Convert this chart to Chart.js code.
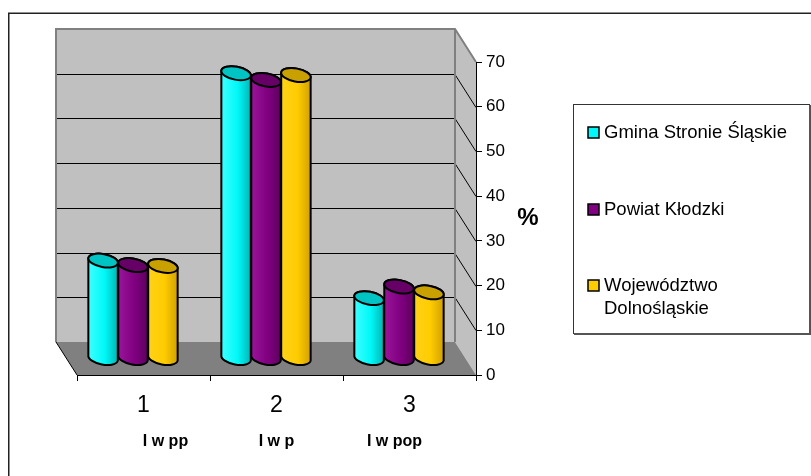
<!DOCTYPE html>
<html>
<head>
<meta charset="utf-8">
<script src="https://cdn.jsdelivr.net/npm/chart.js@4.4.1/dist/chart.umd.min.js"></script>
<style>
  html, body { margin: 0; padding: 0; background: #fff; }
  canvas { display: block; }
</style>
</head>
<body>
<canvas id="chart" width="811" height="476"></canvas>
<script>
// values (percent)
const categories = ['1', '2', '3'];
const subLabels = ['I w pp', 'I w p', 'I w pop'];
const seriesNames = ['Gmina Stronie Śląskie', 'Powiat Kłodzki', 'Województwo Dolnośląskie'];
const gminaValues = [21.9, 63.8, 13.5];
const powiatValues = [20.9, 62.3, 16.1];
const wojewodztwoValues = [20.7, 63.4, 14.8];
const yMin = 0, yMax = 70, yStep = 10;

const FONT = '"Liberation Sans", Arial, sans-serif';
const palettes = [
  { main: '#00f8f8', light: '#40ffff', dark: '#00b4b4', top: '#00c4c4' },
  { main: '#800080', light: '#9a159a', dark: '#5e005e', top: '#660066' },
  { main: '#ffcc00', light: '#ffd21a', dark: '#d0a000', top: '#c8a000' }
];
const depthX = 21, depthY = 33;       // oblique offset of the back wall
const subLabelShift = [22, 0, -15];   // the text box under the axis is not centred

function drawCylinder(ctx, cx, top, bottom, w, pal) {
  const rx = w / 2, ry = 6.5, rot = 0.18;
  const g = ctx.createLinearGradient(cx - rx, 0, cx + rx, 0);
  g.addColorStop(0, pal.light);
  g.addColorStop(0.55, pal.main);
  g.addColorStop(1, pal.dark);
  ctx.save();
  ctx.lineWidth = 2;
  ctx.strokeStyle = '#000';
  ctx.beginPath();
  ctx.ellipse(cx, bottom, rx, ry, rot, 0, Math.PI);
  ctx.ellipse(cx, top, rx, ry, rot, Math.PI, 2 * Math.PI);
  ctx.closePath();
  ctx.fillStyle = g;
  ctx.fill();
  ctx.stroke();
  ctx.beginPath();
  ctx.ellipse(cx, top, rx, ry, rot, 0, 2 * Math.PI);
  ctx.fillStyle = pal.top;
  ctx.fill();
  ctx.stroke();
  ctx.restore();
}

const excel3d = {
  id: 'excel3d',
  beforeDraw(chart) {
    const { ctx, chartArea: a, scales: { x, y } } = chart;
    ctx.save();
    // outer frame
    ctx.strokeStyle = '#222';
    ctx.lineWidth = 1.5;
    ctx.strokeRect(8.75, 13.25, 900, 600);

    const bl = a.left - depthX, br = a.right - depthX;
    const bt = a.top - depthY, bb = a.bottom - depthY;
    // back wall
    ctx.fillStyle = '#c0c0c0';
    ctx.fillRect(bl, bt, br - bl, bb - bt);
    // side wall
    ctx.beginPath();
    ctx.moveTo(br, bt); ctx.lineTo(a.right, a.top); ctx.lineTo(a.right, a.bottom); ctx.lineTo(br, bb);
    ctx.closePath();
    ctx.fill();
    // grid lines on walls
    ctx.strokeStyle = '#000';
    ctx.lineWidth = 1;
    for (let v = yMin + yStep; v < yMax; v += yStep) {
      const py = Math.round(y.getPixelForValue(v)) + 0.5;
      ctx.beginPath();
      ctx.moveTo(bl, py - depthY); ctx.lineTo(br, py - depthY); ctx.lineTo(a.right, py);
      ctx.stroke();
    }
    // floor
    ctx.fillStyle = '#808080';
    ctx.beginPath();
    ctx.moveTo(bl, bb); ctx.lineTo(br, bb); ctx.lineTo(a.right, a.bottom); ctx.lineTo(a.left, a.bottom);
    ctx.closePath();
    ctx.fill();
    // wall outlines
    ctx.strokeStyle = '#808080';
    ctx.lineWidth = 2;
    ctx.beginPath();
    ctx.moveTo(bl, bb); ctx.lineTo(bl, bt); ctx.lineTo(br, bt); ctx.lineTo(a.right, a.top);
    ctx.moveTo(br, bt); ctx.lineTo(br, bb);
    ctx.stroke();
    ctx.strokeStyle = '#000';
    ctx.lineWidth = 1;
    ctx.beginPath();
    ctx.moveTo(bl, bb); ctx.lineTo(a.left, a.bottom);
    ctx.stroke();

    // "%" axis title
    ctx.fillStyle = '#000';
    ctx.font = 'bold 24px ' + FONT;
    ctx.textAlign = 'center';
    ctx.textBaseline = 'middle';
    ctx.fillText('%', 528, (y.getPixelForValue(30) + y.getPixelForValue(40)) / 2);

    // sub labels under categories
    ctx.font = 'bold 16px ' + FONT;
    ctx.textBaseline = 'alphabetic';
    subLabels.forEach((t, i) => {
      ctx.fillText(t, x.getPixelForValue(i) + subLabelShift[i], 446);
    });

    // legend box
    ctx.fillStyle = '#fff';
    ctx.fillRect(573, 104, 237, 230);
    ctx.strokeStyle = '#333';
    ctx.lineWidth = 1;
    ctx.strokeRect(573.5, 104.5, 236, 229);
    ctx.strokeStyle = '#555';
    ctx.lineWidth = 2;
    ctx.beginPath();
    ctx.moveTo(574, 334); ctx.lineTo(810, 334); ctx.lineTo(810, 105);
    ctx.stroke();

    const rows = [132, 209, 285];
    ctx.font = '18.5px ' + FONT;
    ctx.textAlign = 'left';
    ctx.textBaseline = 'middle';
    seriesNames.forEach((name, i) => {
      ctx.fillStyle = palettes[i].main;
      ctx.fillRect(588, rows[i] - 5, 11, 11);
      ctx.strokeStyle = '#000';
      ctx.lineWidth = 1.5;
      ctx.strokeRect(588, rows[i] - 5, 11, 11);
      ctx.fillStyle = '#000';
      const words = name === seriesNames[2] ? name.split(' ') : [name];
      words.forEach((w, k) => ctx.fillText(w, 604, rows[i] + 1 + k * 23));
    });
    ctx.restore();
  },
  afterDatasetsDraw(chart) {
    const ctx = chart.ctx;
    const metas = chart.data.datasets.map((d, i) => chart.getDatasetMeta(i));
    categories.forEach((c, j) => {
      metas.forEach((meta, i) => {
        const el = meta.data[j];
        const p = el.getProps(['x', 'y', 'base', 'width'], true);
        drawCylinder(ctx, p.x - depthX / 2, p.y - depthY / 2, p.base - depthY / 2, p.width, palettes[i]);
      });
    });
  }
};

new Chart(document.getElementById('chart'), {
  type: 'bar',
  data: {
    labels: categories,
    datasets: [
      { label: seriesNames[0], data: gminaValues, backgroundColor: 'rgba(0,0,0,0)' },
      { label: seriesNames[1], data: powiatValues, backgroundColor: 'rgba(0,0,0,0)' },
      { label: seriesNames[2], data: wojewodztwoValues, backgroundColor: 'rgba(0,0,0,0)' }
    ]
  },
  options: {
    responsive: false,
    devicePixelRatio: 1,
    animation: false,
    datasets: { bar: { categoryPercentage: 0.675, barPercentage: 1 } },
    layout: { padding: { left: 77, top: 62, right: 0, bottom: 0 } },
    plugins: { legend: { display: false }, tooltip: { enabled: false } },
    scales: {
      x: {
        position: 'bottom',
        grid: { offset: true, drawOnChartArea: false, tickLength: 6, color: '#000' },
        border: { color: '#000', width: 1 },
        ticks: { color: '#000', font: { family: FONT, size: 23 }, padding: 11, maxRotation: 0 },
        afterFit: s => { s.height = 101; }
      },
      y: {
        position: 'right',
        min: yMin,
        max: yMax,
        grid: { drawOnChartArea: false, tickLength: 6, color: '#000' },
        border: { color: '#000', width: 1 },
        ticks: { stepSize: yStep, color: '#000', font: { family: FONT, size: 17 }, padding: 4 },
        afterFit: s => { s.width = 335; }
      }
    }
  },
  plugins: [excel3d]
});
</script>
</body>
</html>
